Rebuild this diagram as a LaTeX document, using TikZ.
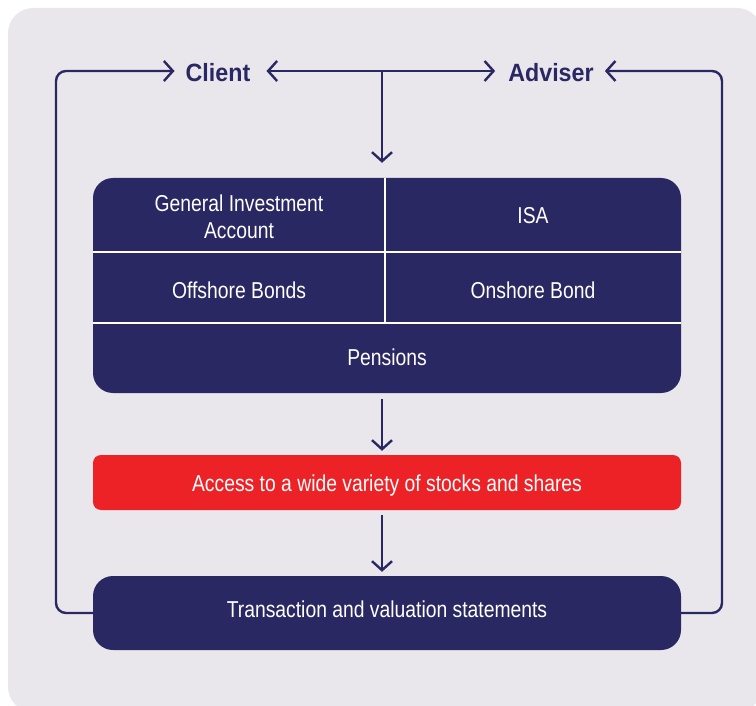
\documentclass[tikz,border=0pt]{standalone}
\usepackage{fontspec}
\setmainfont{Liberation Sans}[FakeStretch=0.84]
\newfontfamily\whofont{Liberation Sans}[FakeStretch=0.93]
\usetikzlibrary{arrows.meta,calc}
\definecolor{navy}{HTML}{2A2862}
\definecolor{bgc}{HTML}{E9E7EC}
\definecolor{redc}{HTML}{EC2227}
\begin{document}
\begin{tikzpicture}[x=1pt,y=-1pt,
  conn/.style={navy, line width=2.4pt, rounded corners=10pt},
  arr/.style={conn, -{Straight Barb[length=9pt,width=20pt]}},
  panel/.style={fill=navy, draw=none, inner sep=0pt, minimum width=588pt},
  celltext/.style={text=white, align=center, font=\fontsize{23}{28}\selectfont, inner sep=0pt, anchor=base},
  who/.style={text=navy, font=\whofont\fontsize{25}{30}\selectfont\bfseries, inner sep=0pt, anchor=base},
  divider/.style={white, line width=2.4pt}]
\useasboundingbox (0,0) rectangle (756,706);
\fill[bgc, rounded corners=25pt] (8,8) rectangle (762,712);
% nodes
\node[who] (client) at (218,82) {Client};
\node[who] (adviser) at (551,82) {Adviser};
\node[panel, rounded corners=20pt, minimum height=215pt] (grid) at (387,285.5) {};
\draw[divider] (grid.west |- 0,252) -- (grid.east |- 0,252);
\draw[divider] (grid.west |- 0,323) -- (grid.east |- 0,323);
\draw[divider] (385,178) -- (385,323);
\node[celltext] (gia) at (239,239) {General Investment\\Account};
\node[celltext] (isa) at (533,223.5) {ISA};
\node[celltext] (off) at (239,298.5) {Offshore Bonds};
\node[celltext] (on) at (533,298.5) {Onshore Bond};
\node[celltext] (pen) at (387,365.5) {Pensions};
\node[panel, fill=redc, rounded corners=8pt, minimum height=55pt] (access) at (387,482.5) {};
\node[celltext] (accesst) at (387,491.5) {Access to a wide variety of stocks and shares};
\node[panel, rounded corners=20pt, minimum height=74pt] (stmt) at (387,613) {};
\node[celltext] (stmtt) at (387,617) {Transaction and valuation statements};
% connectors
\coordinate (top) at (382,71);
\coordinate (ctipR) at ($(top -| client.east)+(16,0)$);
\coordinate (ctipL) at ($(top -| client.west)+(-11,0)$);
\coordinate (atipL) at ($(top -| adviser.west)+(-13,0)$);
\coordinate (atipR) at ($(top -| adviser.east)+(11,0)$);
\coordinate (lc) at (56,71);
\coordinate (rc) at (722,71);
\draw[arr] (top) -- (ctipR);
\draw[arr] (top) -- (atipL);
\draw[arr] (top) -- ([xshift=-5pt,yshift=15pt]grid.north);
\draw[arr] ([xshift=-5pt,yshift=-6pt]grid.south) -- ([xshift=-5pt,yshift=4pt]access.north);
\draw[arr] ([xshift=-5pt,yshift=-5pt]access.south) -- ([xshift=-5pt,yshift=4pt]stmt.north);
\draw[arr] (stmt.west) -| (lc) -- (ctipL);
\draw[arr] (stmt.east) -| (rc) -- (atipR);
\end{tikzpicture}
\end{document}
